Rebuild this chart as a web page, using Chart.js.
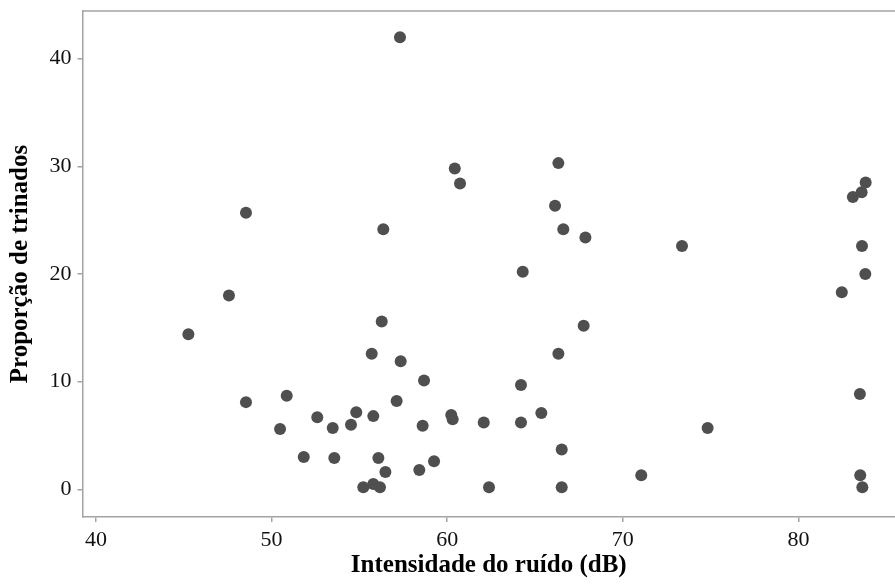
<!DOCTYPE html>
<html>
<head>
<meta charset="utf-8">
<script src="https://cdn.jsdelivr.net/npm/chart.js@4/dist/chart.umd.min.js"></script>
<style>
  body { margin: 0; background: #fff; }
  canvas { display: block; }
</style>
</head>
<body>
<canvas id="scatter" width="895" height="586"></canvas>
<script>
// noise intensity (dB) and proportion of trills for each recording
var ruido = [45.26, 47.57, 48.54, 48.54, 50.86, 50.48, 51.83, 52.6, 53.48, 53.57,
  54.52, 54.82, 55.22, 55.7, 55.79, 55.79, 56.08, 56.17, 56.27, 56.36,
  56.48, 57.12, 57.31, 57.35, 58.41, 58.68, 58.6, 59.25, 60.23, 60.31,
  60.43, 60.73, 62.08, 62.38, 64.2, 64.2, 64.3, 65.36, 66.14, 66.33,
  66.33, 66.52, 66.52, 66.61, 67.87, 67.77, 71.05, 73.37, 74.83, 82.47,
  83.1, 83.6, 83.83, 83.62, 83.81, 83.5, 83.52, 83.64];
var trinados = [14.4, 18.0, 25.7, 8.1, 8.7, 5.6, 3.0, 6.7, 5.7, 2.9,
  6.0, 7.15, 0.2, 12.6, 6.8, 0.5, 2.9, 0.2, 15.6, 24.15,
  1.6, 8.2, 42.0, 11.9, 1.8, 10.1, 5.9, 2.6, 6.9, 6.5,
  29.8, 28.4, 6.2, 0.2, 9.7, 6.2, 20.2, 7.1, 26.35, 30.3,
  12.6, 3.7, 0.2, 24.15, 23.4, 15.2, 1.3, 22.6, 5.7, 18.3,
  27.15, 27.6, 28.5, 22.6, 20.0, 8.85, 1.3, 0.2];
var xTicks = [40, 50, 60, 70, 80];
var yTicks = [0, 10, 20, 30, 40];

var pontos = [];
for (var i = 0; i < ruido.length; i++) {
  pontos.push({x: ruido[i], y: trinados[i]});
}

var axisGray = '#a3a3a3';
var serif = "'Liberation Serif', 'Times New Roman', serif";

// top frame line (no right side is drawn)
var topLine = {
  id: 'topLine',
  afterDraw: function(chart) {
    var a = chart.chartArea;
    var ctx = chart.ctx;
    ctx.save();
    ctx.strokeStyle = axisGray;
    ctx.lineWidth = 1.5;
    ctx.beginPath();
    ctx.moveTo(a.left, a.top);
    ctx.lineTo(a.right, a.top);
    ctx.stroke();
    ctx.restore();
  }
};

new Chart(document.getElementById('scatter'), {
  type: 'scatter',
  data: {
    datasets: [{
      data: pontos,
      backgroundColor: '#4f4f4f',
      borderWidth: 0,
      pointRadius: 6,
      pointHoverRadius: 6
    }]
  },
  options: {
    responsive: false,
    animation: false,
    layout: { autoPadding: false, padding: { top: 11, right: 0, left: 0, bottom: 0 } },
    plugins: { legend: { display: false }, tooltip: { enabled: false } },
    scales: {
      x: {
        type: 'linear',
        min: 39.23,
        max: 85.5,
        afterFit: function(scale) {
          scale.height = 69;
          scale.paddingLeft = 0;
          scale.paddingRight = 0;
        },
        afterBuildTicks: function(scale) {
          scale.ticks = xTicks.map(function(v) { return {value: v}; });
        },
        border: { color: axisGray, width: 1.5 },
        grid: { drawOnChartArea: false, tickLength: 5, color: axisGray, lineWidth: 1.5 },
        ticks: { padding: 5, color: '#111', font: { family: serif, size: 22 } },
        title: {
          display: true,
          text: 'Intensidade do ruído (dB)',
          color: '#000',
          font: { family: serif, size: 25, weight: 'bold', lineHeight: 1 },
          padding: { top: 0, bottom: 8 }
        }
      },
      y: {
        type: 'linear',
        min: -2.57,
        max: 44.43,
        afterFit: function(scale) {
          scale.width = 82.5;
          scale.paddingTop = 0;
          scale.paddingBottom = 0;
        },
        afterBuildTicks: function(scale) {
          scale.ticks = yTicks.map(function(v) { return {value: v}; });
        },
        border: { color: axisGray, width: 1.5 },
        grid: { drawOnChartArea: false, tickLength: 5, color: axisGray, lineWidth: 1.5 },
        ticks: { padding: 6, color: '#111', font: { family: serif, size: 22 } },
        title: {
          display: true,
          text: 'Proporção de trinados',
          color: '#000',
          font: { family: serif, size: 25, weight: 'bold', lineHeight: 1 },
          padding: { top: 8, bottom: 0 }
        }
      }
    }
  },
  plugins: [topLine]
});
</script>
</body>
</html>
